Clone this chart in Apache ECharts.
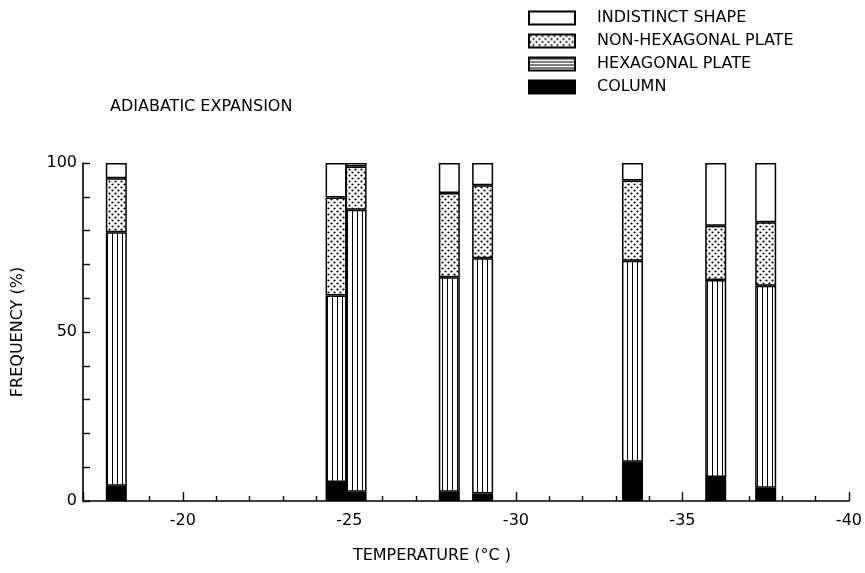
<!DOCTYPE html>
<html><head><meta charset="utf-8">
<script src="https://cdn.jsdelivr.net/npm/echarts@6/dist/echarts.min.js"></script>
<style>html,body{margin:0;padding:0;background:#fff}#c{width:865px;height:573px}</style>
</head><body><div id="c"></div>
<script>
// ---- data ----
const temperatures = [-18, -24.6, -25.2, -28, -29, -33.5, -36, -37.5];
const column = [4.5, 5.6, 2.7, 2.7, 2.2, 11.6, 7.1, 3.9];
const hexagonalPlate = [75.0, 55.2, 83.5, 63.5, 69.6, 59.5, 58.3, 59.8];
const nonHexagonalPlate = [16.0, 29.0, 12.8, 24.9, 21.6, 23.7, 16.0, 18.8];
const indistinctShape = [4.5, 10.2, 1.0, 8.9, 6.6, 5.2, 18.6, 17.5];
const seriesNames = ['COLUMN', 'HEXAGONAL PLATE', 'NON-HEXAGONAL PLATE', 'INDISTINCT SHAPE'];
const legendOrder = ['INDISTINCT SHAPE', 'NON-HEXAGONAL PLATE', 'HEXAGONAL PLATE', 'COLUMN'];
const titleText = 'ADIABATIC EXPANSION';
const xName = 'TEMPERATURE (°C )';
const yName = 'FREQUENCY (%)';

// ---- fill patterns ----
function makeCanvas(w, h, draw) {
  const c = document.createElement('canvas'); c.width = w; c.height = h;
  const x = c.getContext('2d'); x.fillStyle = '#fff'; x.fillRect(0, 0, w, h);
  x.fillStyle = '#000'; draw(x); return c;
}
const vStripes = makeCanvas(5, 4, ctx => { ctx.fillRect(2, 0, 1, 4); });
const hStripes = makeCanvas(4, 3, ctx => { ctx.fillRect(0, 1, 4, 1); });
const dots = makeCanvas(6, 6, ctx => {
  ctx.beginPath(); ctx.arc(1.5, 1.5, 1.1, 0, Math.PI * 2); ctx.fill();
  ctx.beginPath(); ctx.arc(4.5, 4.5, 1.1, 0, Math.PI * 2); ctx.fill();
});
const fills = {
  'COLUMN': '#000',
  'HEXAGONAL PLATE': { image: vStripes, repeat: 'repeat' },
  'NON-HEXAGONAL PLATE': { image: dots, repeat: 'repeat' },
  'INDISTINCT SHAPE': '#fff'
};
const values = {
  'COLUMN': column,
  'HEXAGONAL PLATE': hexagonalPlate,
  'NON-HEXAGONAL PLATE': nonHexagonalPlate,
  'INDISTINCT SHAPE': indistinctShape
};

const FONT = 'DejaVu Sans';
const chart = echarts.init(document.getElementById('c'), null, { renderer: 'canvas' });
chart.setOption({
  backgroundColor: '#fff',
  animation: false,
  textStyle: { fontFamily: FONT, color: '#000' },
  title: {
    text: titleText, left: 110, top: 99, padding: 0,
    textStyle: { fontFamily: FONT, fontSize: 16, fontWeight: 'normal', color: '#000' }
  },
  legend: {
    orient: 'vertical', left: 528, top: 10, padding: 0,
    itemWidth: 46, itemHeight: 13, itemGap: 7,
    icon: 'rect',
    data: legendOrder.map(n => n === 'HEXAGONAL PLATE'
      ? { name: n, itemStyle: { color: { image: hStripes, repeat: 'repeat' } } }
      : { name: n }),
    textStyle: { fontFamily: FONT, fontSize: 16, color: '#000', lineHeight: 16, padding: [0, 0, 0, 17] },
    selectedMode: false
  },
  grid: { left: 83, right: 16, top: 163, bottom: 72, containLabel: false },
  xAxis: {
    type: 'value', min: -40, max: -17, interval: 5, inverse: true,
    name: xName, nameLocation: 'middle', nameGap: 47,
    nameTextStyle: { fontFamily: FONT, fontSize: 16, color: '#000', padding: [0, 68, 0, 0] },
    axisLine: { lineStyle: { color: '#000', width: 1.6 } },
    axisTick: { inside: true, length: 9, lineStyle: { color: '#000', width: 1.4 } },
    minorTick: { show: true, splitNumber: 5, length: 5, lineStyle: { color: '#000', width: 1.4 } },
    axisLabel: { fontFamily: FONT, fontSize: 16, color: '#000', margin: 12, showMaxLabel: false },
    splitLine: { show: false }
  },
  yAxis: {
    type: 'value', min: 0, max: 100, interval: 50,
    name: yName, nameLocation: 'middle', nameGap: 57, nameRotate: 90,
    nameTextStyle: { fontFamily: FONT, fontSize: 16, color: '#000' },
    axisLine: { show: true, lineStyle: { color: '#000', width: 1.6 } },
    axisTick: { show: true, inside: true, length: 7, lineStyle: { color: '#000', width: 1.4 } },
    minorTick: { show: true, splitNumber: 5, length: 7, lineStyle: { color: '#000', width: 1.4 } },
    axisLabel: { fontFamily: FONT, fontSize: 16, color: '#000', margin: 6 },
    splitLine: { show: false }
  },
  series: seriesNames.map(n => ({
    name: n, type: 'bar', stack: 'freq', barWidth: 21,
    encode: { x: 1, y: 0 },
    itemStyle: { color: fills[n], borderColor: '#000', borderWidth: 1.5 },
    emphasis: { disabled: true },
    data: temperatures.map((t, i) => [values[n][i], t])
  }))
});
</script></body></html>
